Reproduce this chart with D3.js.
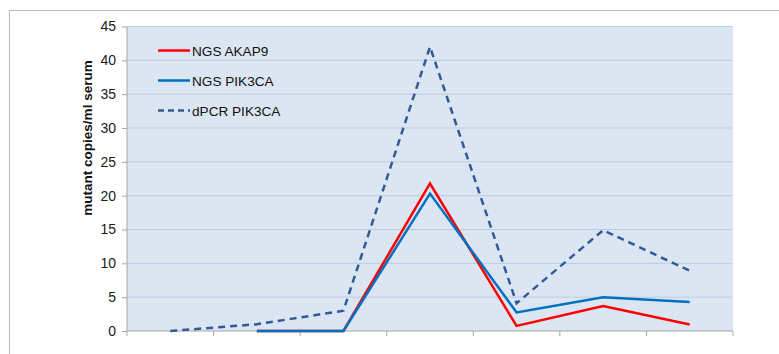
<!DOCTYPE html>
<html>
<head>
<meta charset="utf-8">
<script src="https://cdn.jsdelivr.net/npm/d3@7"></script>
<style>
  body { margin: 0; background: #fff; }
  svg { display: block; font-family: "Liberation Sans", Arial, sans-serif; }
</style>
</head>
<body>
<svg width="779" height="354"></svg>
<script>
const categories = ["1", "2", "3", "4", "5", "6", "7"];
const ngsAkap9 = [null, 0, 0, 21.8, 0.75, 3.7, 0.95];
const ngsPik3ca = [null, 0, 0, 20.3, 2.75, 5.0, 4.3];
const dpcrPik3ca = [0, 1.0, 3.0, 42.0, 4.1, 14.9, 8.9];
const yTicks = [0, 5, 10, 15, 20, 25, 30, 35, 40, 45];

const series = [
  { name: "NGS AKAP9", values: ngsAkap9, color: "#ff0000", dash: null },
  { name: "NGS PIK3CA", values: ngsPik3ca, color: "#0070c0", dash: null },
  { name: "dPCR PIK3CA", values: dpcrPik3ca, color: "#2f5c97", dash: "7,5" }
];

const svg = d3.select("svg"),
      margin = { top: 26.5, right: 46, bottom: 23, left: 127 },
      width = +svg.attr("width") - margin.left - margin.right,
      height = +svg.attr("height") - margin.top - margin.bottom;

// outer chart border (runs off the right and bottom edges)
svg.append("rect")
  .attr("x", 9.5).attr("y", 10.5)
  .attr("width", 800).attr("height", 400)
  .attr("fill", "none")
  .attr("stroke", "#bdbdbd")
  .attr("stroke-width", 1);

const g = svg.append("g").attr("transform", `translate(${margin.left},${margin.top})`);

const x = d3.scaleBand().domain(categories).range([0, width]);
const y = d3.scaleLinear().domain([0, 45]).range([height, 0]);

g.append("rect")
  .attr("width", width)
  .attr("height", height)
  .attr("fill", "#dce6f2");

// gridlines
g.append("g")
  .selectAll("line")
  .data(yTicks.filter(d => d > 0))
  .enter()
  .append("line")
  .attr("x1", 0).attr("x2", width)
  .attr("y1", d => y(d)).attr("y2", d => y(d))
  .attr("stroke", "#b9cde5")
  .attr("stroke-width", 1);

// x axis: ticks at category boundaries, no labels
const xAxis = g.append("g").attr("transform", `translate(0,${height})`);
xAxis.append("line")
  .attr("x1", 0).attr("x2", width)
  .attr("stroke", "#a6a6a6");
xAxis.selectAll(".xt")
  .data(categories.concat(["end"]))
  .enter()
  .append("line")
  .attr("x1", (d, i) => i * x.step())
  .attr("x2", (d, i) => i * x.step())
  .attr("y1", 0).attr("y2", 5)
  .attr("stroke", "#a6a6a6");

// y axis
const yAxis = g.append("g")
  .call(d3.axisLeft(y).tickValues(yTicks).tickSize(5).tickPadding(6));
yAxis.select(".domain").attr("stroke", "#a6a6a6").attr("d", `M0,${height}V0`);
yAxis.selectAll(".tick line").attr("stroke", "#a6a6a6");
yAxis.selectAll("text")
  .style("font-size", "14px")
  .style("font-family", "'Liberation Sans', Arial, sans-serif")
  .attr("fill", "#1a1a1a");

svg.append("text")
  .attr("transform", "translate(91.5,138) rotate(-90)")
  .attr("text-anchor", "middle")
  .style("font-size", "13.5px")
  .style("font-weight", "bold")
  .attr("fill", "#111")
  .text("mutant copies/ml serum");

const line = d3.line()
  .defined(d => d != null)
  .x((d, i) => x(categories[i]) + x.bandwidth() / 2)
  .y(d => y(d));

series.forEach(s => {
  g.append("path")
    .datum(s.values)
    .attr("fill", "none")
    .attr("stroke", s.color)
    .attr("stroke-width", 2.5)
    .attr("stroke-linejoin", "miter")
    .attr("stroke-dasharray", s.dash)
    .attr("d", line);
});

// legend
const legend = svg.append("g").attr("transform", "translate(158,50.5)");
legend.selectAll(".legend-item")
  .data(series)
  .enter()
  .append("g")
  .attr("class", "legend-item")
  .attr("transform", (d, i) => `translate(0, ${i * 30})`)
  .each(function(d) {
    d3.select(this)
      .append("line")
      .attr("x1", 0).attr("x2", 32)
      .attr("stroke", d.color)
      .attr("stroke-width", 2.5)
      .attr("stroke-dasharray", d.dash ? "6,4" : null);
    d3.select(this)
      .append("text")
      .attr("x", 34)
      .attr("y", 5)
      .style("font-size", "13.6px")
      .attr("fill", "#111")
      .text(d.name);
  });
</script>
</body>
</html>
